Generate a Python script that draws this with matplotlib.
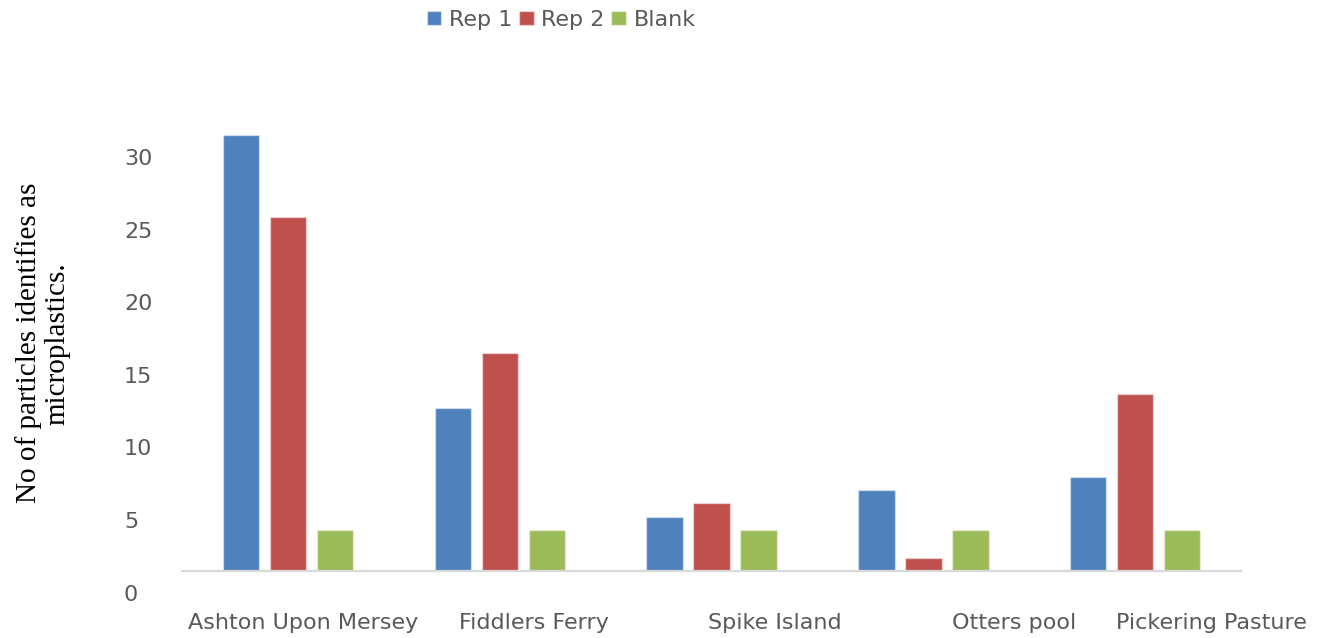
import matplotlib.pyplot as plt
import numpy as np
from matplotlib.transforms import ScaledTranslation

# particle counts per site
sites = ["Ashton Upon Mersey", "Fiddlers Ferry", "Spike Island", "Otters pool", "Pickering Pasture"]
rep1 = [30.0, 11.2, 3.7, 5.6, 6.5]
rep2 = [24.4, 15.0, 4.7, 0.9, 12.2]
blank = [2.8, 2.8, 2.8, 2.8, 2.8]
series_names = ["Rep 1", "Rep 2", "Blank"]
yticks = [0, 5, 10, 15, 20, 25, 30]

colors = ["#4F81BD", "#C0504D", "#9BBB59"]
grey = "#595959"

fig = plt.figure(figsize=(13.27, 6.38), dpi=100)
ax = fig.add_axes([0.1374, 0.105, 0.7976, 0.797])

x = np.arange(len(sites))
w = 0.173
off = 0.222
bars = []
for i, (vals, c) in enumerate(zip([rep1, rep2, blank], colors)):
    b = ax.bar(x + (i - 1) * off, vals, w, color=c,
               edgecolor=(1, 1, 1, 0.45), linewidth=1.0, zorder=2)
    bars.append(b)

ax.set_xlim(-0.5, 4.5)
ax.set_ylim(0, 35)

for s in ["top", "right", "left"]:
    ax.spines[s].set_visible(False)
ax.spines["bottom"].set_color("#D9D9D9")
ax.spines["bottom"].set_linewidth(1.6)
ax.spines["bottom"].set_zorder(3)

ax.set_yticks(yticks)
ax.set_yticklabels([str(v) for v in yticks])
ax.tick_params(axis="y", length=0, pad=42, labelsize=16, labelcolor=grey)
for lab in ax.get_yticklabels():
    lab.set_horizontalalignment("left")
    lab.set_transform(lab.get_transform() + ScaledTranslation(0, -0.217, fig.dpi_scale_trans))

ax.set_xticks(x)
ax.set_xticklabels(sites)
ax.tick_params(axis="x", length=0, pad=30, labelsize=16, labelcolor=grey)
# site labels sit a little right of their bar groups
nudge = [0.154, 0.34, 0.635, 0.91, 0.77]
for lab, dx in zip(ax.get_xticklabels(), nudge):
    lab.set_transform(lab.get_transform() + ScaledTranslation(dx, 0, fig.dpi_scale_trans))

fig.text(0.032, 0.462, "No of particles identifies as\nmicroplastics.",
         rotation=90, ha="center", va="center", fontsize=21,
         family=["Liberation Serif", "DejaVu Serif"], linespacing=1.1, color="black")

fig.legend(bars, series_names, loc="upper center", bbox_to_anchor=(0.423, 1.016),
           ncol=3, frameon=False, fontsize=16, handlelength=0.65, handleheight=0.6,
           handletextpad=0.35, columnspacing=0.3, labelcolor=grey)

fig.savefig("out.png", dpi=100)
